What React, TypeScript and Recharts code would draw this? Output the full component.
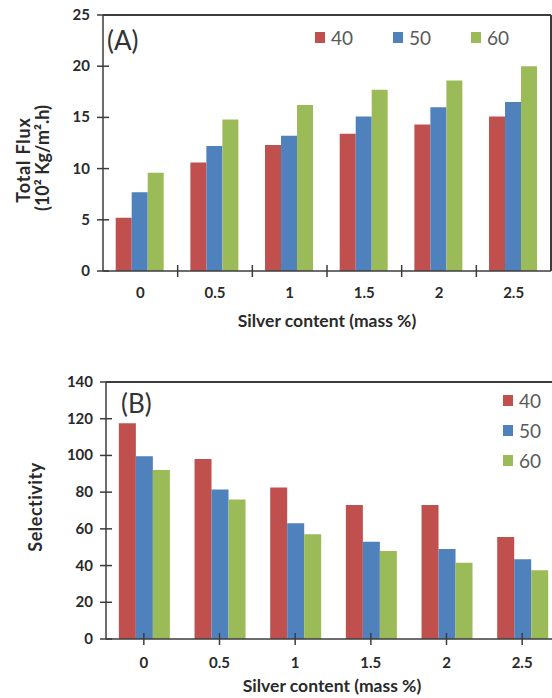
import React from 'react';
import { BarChart, Bar, XAxis, YAxis, Legend, CartesianGrid } from 'recharts';

const categories = ['0', '0.5', '1', '1.5', '2', '2.5'];
const seriesNames = ['40', '50', '60'];
const seriesColors = ['#C0504D', '#4F81BD', '#9BBB59'];

const flux40 = [5.2, 10.6, 12.3, 13.4, 14.3, 15.1];
const flux50 = [7.7, 12.2, 13.2, 15.1, 16.0, 16.5];
const flux60 = [9.6, 14.8, 16.2, 17.7, 18.6, 20.0];

const sel40 = [117.5, 98, 82.5, 73, 73, 55.5];
const sel50 = [99.5, 81.5, 63, 53, 49, 43.5];
const sel60 = [92, 76, 57, 48, 41.5, 37.5];

const fluxTicks = [0, 5, 10, 15, 20, 25];
const selTicks = [0, 20, 40, 60, 80, 100, 120, 140];

const fluxData = categories.map((c, i) => ({ cat: c, s40: flux40[i], s50: flux50[i], s60: flux60[i] }));
const selData = categories.map((c, i) => ({ cat: c, s40: sel40[i], s50: sel50[i], s60: sel60[i] }));
const keys = ['s40', 's50', 's60'];

const FONT = 'Lato, "Open Sans", sans-serif';
const AXIS = '#3c3c3c';
const TXT = '#2a2a2a';

const YTick = (props: any) => {
  const { x, y, payload } = props;
  return (
    <g>
      <line x1={x - 6} x2={x + 6} y1={y} y2={y} stroke={AXIS} strokeWidth={1.5} />
      <text x={x - 13} y={y} dy={5} textAnchor="end" fontFamily={FONT} fontWeight={700} fontSize={15} fill={TXT}>
        {payload.value}
      </text>
    </g>
  );
};

const XTickBetween = (props: any) => {
  const { x, y, payload, index, width, visibleTicksCount } = props;
  const n = visibleTicksCount || categories.length;
  const band = (typeof width === 'number' ? width : 448) / n;
  return (
    <g>
      {index < n - 1 && (
        <line x1={x + band / 2} x2={x + band / 2} y1={y - 6} y2={y + 6} stroke={AXIS} strokeWidth={1.5} />
      )}
      <text x={x} y={y + 27} textAnchor="middle" fontFamily={FONT} fontWeight={700} fontSize={15} fill={TXT}>
        {payload.value}
      </text>
    </g>
  );
};

const XTickCenter = (props: any) => {
  const { x, y, payload } = props;
  return (
    <g>
      <line x1={x} x2={x} y1={y - 6} y2={y + 6} stroke={AXIS} strokeWidth={1.5} />
      <text x={x} y={y + 29} textAnchor="middle" fontFamily={FONT} fontWeight={700} fontSize={15} fill={TXT}>
        {payload.value}
      </text>
    </g>
  );
};

const LegendA = () => (
  <div style={{ display: 'flex', fontFamily: FONT, fontSize: 19, color: '#5a5a5a' }}>
    {seriesNames.map((n, i) => (
      <div key={n} style={{ display: 'flex', alignItems: 'center', width: 78 }}>
        <div style={{ width: 10, height: 11, background: seriesColors[i], marginRight: 6 }} />
        <span>{n}</span>
      </div>
    ))}
  </div>
);

const LegendB = () => (
  <div style={{ fontFamily: FONT, fontSize: 19, color: '#5a5a5a' }}>
    {seriesNames.map((n, i) => (
      <div key={n} style={{ display: 'flex', alignItems: 'center', height: 30 }}>
        <div style={{ width: 10, height: 11, background: seriesColors[i], marginRight: 6 }} />
        <span>{n}</span>
      </div>
    ))}
  </div>
);

const frameH = (p: any) => [p.offset.top];
const frameV = (p: any) => [p.offset.left + p.offset.width];

export default function App() {
  return (
    <div style={{ position: 'absolute', left: 0, top: 0, width: 552, height: 698, overflow: 'hidden', background: '#fff' }}>
      <div style={{ position: 'absolute', left: 0, top: 0 }}>
        <BarChart width={552} height={335} data={fluxData} margin={{ top: 15, right: 1, left: 0, bottom: 0 }} barGap={0} barCategoryGap="17%">
          <CartesianGrid
            stroke={AXIS}
            strokeWidth={2}
            horizontalCoordinatesGenerator={frameH}
            verticalCoordinatesGenerator={frameV}
          />
          <XAxis
            dataKey="cat"
            height={64}
            axisLine={{ stroke: AXIS, strokeWidth: 1.5 }}
            tickLine={false}
            tickSize={0}
            tickMargin={0}
            interval={0}
            tick={<XTickBetween />}
            label={{
              content: (p: any) => {
                const vb = p.viewBox || {};
                return (
                  <text x={vb.x + vb.width / 2} y={327} textAnchor="middle" fontFamily={FONT} fontWeight={700} fontSize={17.5} fill={TXT}>
                    Silver content  (mass %)
                  </text>
                );
              },
            }}
          />
          <YAxis
            width={103}
            domain={[0, 25]}
            ticks={fluxTicks}
            interval={0}
            axisLine={{ stroke: AXIS, strokeWidth: 1.5 }}
            tickLine={false}
            tickSize={0}
            tickMargin={0}
            tick={<YTick />}
            label={{
              content: () => (
                <g fontFamily={FONT} fontWeight={700} fontSize={18} fill={TXT}>
                  <text transform="translate(30,160) rotate(-90)" textAnchor="middle" letterSpacing={0.8}>Total Flux</text>
                  <text transform="translate(49,158) rotate(-90)" textAnchor="middle">(10² Kg/m².h)</text>
                </g>
              ),
            }}
          />
          <Legend
            content={<LegendA />}
            align="center"
            verticalAlign="middle"
            wrapperStyle={{ position: 'absolute', left: 315, top: 26, width: 240, height: 26 }}
          />
          {keys.map((k, i) => (
            <Bar key={k} dataKey={k} name={seriesNames[i]} fill={seriesColors[i]} isAnimationActive={false} />
          ))}
          <text x={107} y={50} fontFamily={FONT} fontSize={26} fill="#333">(A)</text>
        </BarChart>
      </div>
      <div style={{ position: 'absolute', left: 0, top: 340 }}>
        <BarChart width={570} height={358} data={selData} margin={{ top: 42, right: 10, left: 0, bottom: 0 }} barGap={0} barCategoryGap="17%">
          <CartesianGrid
            stroke={AXIS}
            strokeWidth={2}
            horizontalCoordinatesGenerator={frameH}
            verticalCoordinatesGenerator={frameV}
          />
          <XAxis
            dataKey="cat"
            height={59}
            axisLine={{ stroke: AXIS, strokeWidth: 1.5 }}
            tickLine={false}
            tickSize={0}
            tickMargin={0}
            interval={0}
            tick={<XTickCenter />}
            label={{
              content: () => (
                <text x={332} y={352} textAnchor="middle" fontFamily={FONT} fontWeight={700} fontSize={17.5} fill={TXT}>
                  Silver content  (mass %)
                </text>
              ),
            }}
          />
          <YAxis
            width={106}
            domain={[0, 140]}
            ticks={selTicks}
            interval={0}
            axisLine={{ stroke: AXIS, strokeWidth: 1.5 }}
            tickLine={false}
            tickSize={0}
            tickMargin={0}
            tick={<YTick />}
            label={{
              content: () => (
                <text transform="translate(42,167) rotate(-90)" textAnchor="middle" fontFamily={FONT} fontWeight={700} fontSize={18} fill={TXT} letterSpacing={0.5}>
                  Selectivity
                </text>
              ),
            }}
          />
          <Legend
            content={<LegendB />}
            align="center"
            verticalAlign="middle"
            wrapperStyle={{ position: 'absolute', left: 503, top: 45, width: 60, height: 90 }}
          />
          {keys.map((k, i) => (
            <Bar key={k} dataKey={k} name={seriesNames[i]} fill={seriesColors[i]} isAnimationActive={false} />
          ))}
          <text x={121} y={73} fontFamily={FONT} fontSize={26} fill="#333">(B)</text>
        </BarChart>
      </div>
    </div>
  );
}
